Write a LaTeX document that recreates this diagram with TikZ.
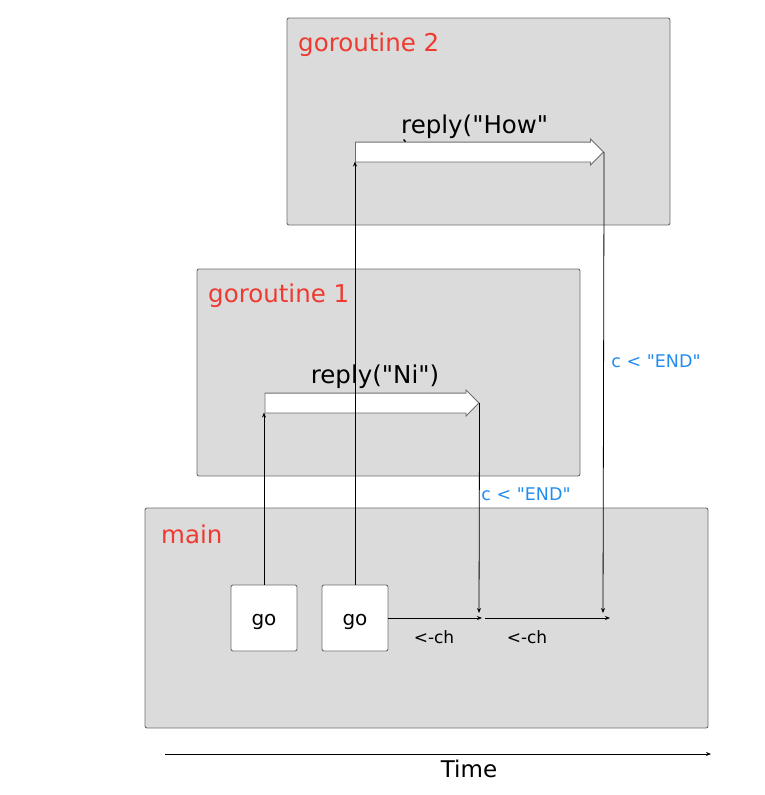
\documentclass[tikz,border=0pt]{standalone}
\usepackage{fontspec}
\setmainfont{DejaVu Sans}
\usetikzlibrary{arrows.meta,shapes.arrows}
\definecolor{boxgray}{RGB}{219,219,219}
\definecolor{edgegray}{RGB}{110,110,110}
\definecolor{titlered}{RGB}{238,58,48}
\definecolor{condblue}{RGB}{34,140,238}
\newcommand{\dq}{\textquotedbl}
\tikzset{
  panel/.style={draw=edgegray, fill=boxgray, line width=0.9pt, rounded corners=2pt},
  paneltitle/.style={anchor=west, inner sep=0pt, text=titlered, font=\fontsize{24.5}{26}\selectfont},
  gobox/.style={draw=edgegray, fill=white, line width=0.9pt, rounded corners=2pt, minimum width=66pt, minimum height=66pt, inner sep=0pt, text height=15pt, text depth=0pt, font=\fontsize{20}{24}\selectfont},
  blockarrow/.style={single arrow, draw=edgegray, fill=white, line width=0.9pt, inner xsep=0pt, inner ysep=9.5pt, single arrow head extend=3pt, anchor=tail},
  conn/.style={draw=black, line width=0.8pt, -{Stealth[length=5pt,width=4pt]}},
  callname/.style={inner sep=0pt, font=\fontsize{24.5}{22}\selectfont},
  chlabel/.style={inner sep=0pt, font=\fontsize{17}{18}\selectfont},
  condlabel/.style={inner sep=0pt, text=condblue, font=\fontsize{17.5}{18}\selectfont},
  timelabel/.style={inner sep=0pt, font=\fontsize{23}{24}\selectfont}
}
\begin{document}
\begin{tikzpicture}[x=1pt,y=-1pt]
\useasboundingbox (0,0) rectangle (765,795);
% panels
\path[panel] (287,18) rectangle (670,225);
\node[paneltitle] (t2) at (298,45) {goroutine 2};
\path[panel] (197,269) rectangle (580,476);
\node[paneltitle] (t1) at (208,296) {goroutine 1};
\path[panel] (145,508) rectangle (708,728);
\node[paneltitle] (tm) at (161,534) {main};
% call labels
\node[callname, anchor=north west, align=left] (r2) at (401,115) {reply(\dq How\dq\\)};
\node[callname] (r1) at (375,377) {reply(\dq Ni\dq)};
% block arrows
\node[blockarrow, minimum height=248pt] (a2) at (355,152) {};
\node[blockarrow, minimum height=214pt] (a1) at (264.5,403) {};
% go boxes
\node[gobox] (go1) at (264,618) {go};
\node[gobox] (go2) at (355,618) {go};
% connector end points
\coordinate (a1in) at (264,412.5);
\coordinate (a2in) at (355,161.5);
\coordinate (m1) at (479,613);
\coordinate (m2) at (603,613);
\coordinate (h1) at (482,618);
\coordinate (h2s) at (485,618);
\coordinate (h2) at (610,618);
\coordinate (t0) at (165,754);
\coordinate (t1e) at (711,754);
% connectors
\draw[conn] (go1.north) -- (a1in);
\draw[conn] (go2.north) -- (a2in);
\draw[conn] (a1.tip) -- (m1);
\draw[conn] (a2.tip) -- (m2);
\draw[conn] (go2.east) -- (h1);
\draw[conn] (h2s) -- (h2);
\draw[conn] (t0) -- (t1e);
% labels
\node[chlabel] (ch1) at (434,637) {<-ch};
\node[chlabel] (ch2) at (527,637) {<-ch};
\node[condlabel] (c1) at (526,494) {c < \dq END\dq};
\node[condlabel] (c2) at (656,361) {c < \dq END\dq};
\node[timelabel] (time) at (469,769) {Time};
\end{tikzpicture}
\end{document}
